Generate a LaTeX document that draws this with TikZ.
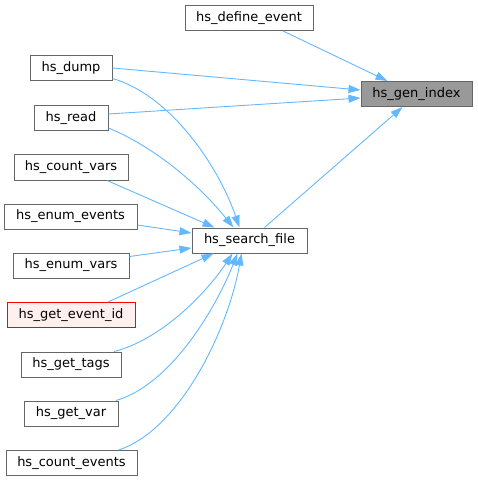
\documentclass[tikz,border=0pt]{standalone}
\usepackage{fontspec}
\setmainfont{DejaVu Sans}
\usetikzlibrary{arrows.meta}
\definecolor{edgec}{HTML}{63B8FF}
\definecolor{boxc}{HTML}{666666}
\definecolor{redc}{HTML}{FF0000}
\definecolor{redfill}{HTML}{FFF0F0}
\definecolor{grayfill}{HTML}{999999}
\begin{document}
\begin{tikzpicture}[x=1pt,y=-1pt,
  fn/.style={draw=boxc,line width=1pt,fill=white,inner sep=0pt,minimum height=25pt,font=\fontsize{13}{15}\selectfont},
  cur/.style={fn,fill=grayfill},
  redbox/.style={fn,draw=redc,fill=redfill},
  call/.style={draw=edgec,line width=0.9pt,-{Triangle[length=12pt,width=8pt]}}]
\useasboundingbox (0,0) rectangle (477,481);
\node[fn,minimum width=128pt] (de) at (249,18) {hs\_define\_event};
\node[cur,minimum width=111pt] (gi) at (416.5,94) {hs\_gen\_index};
\node[fn,minimum width=115pt] (sf) at (249.5,240.5) {hs\_search\_file};
\node[fn,minimum width=82pt] (dump) at (71,68.5) {hs\_dump};
\node[fn,minimum width=74pt] (read) at (71,118) {hs\_read};
\node[fn,minimum width=114pt] (cv) at (71,167.5) {hs\_count\_vars};
\node[fn,minimum width=133pt] (ee) at (70.5,216.5) {hs\_enum\_events};
\node[fn,minimum width=116pt] (ev) at (71,265.5) {hs\_enum\_vars};
\node[redbox,minimum width=128pt] (gei) at (71,315) {hs\_get\_event\_id};
\node[fn,minimum width=100pt] (gt) at (71,364.5) {hs\_get\_tags};
\node[fn,minimum width=94pt] (gv) at (71,413.5) {hs\_get\_var};
\node[fn,minimum width=131pt] (ce) at (71.5,463) {hs\_count\_events};
% edges to hs_gen_index
\draw[call] ([xshift=34pt]de.south) -- ([xshift=27pt]gi.north west);
\draw[call] ([yshift=0.5pt]dump.east) -- ([yshift=4pt]gi.west);
\draw[call] ([yshift=4pt]read.east) -- ([yshift=-4pt]gi.west);
\draw[call] ([xshift=15pt]sf.north) -- ([xshift=-14pt]gi.south);
% edges to hs_search_file
\draw[call] ([yshift=-10pt]dump.east) .. controls (170,95) and (218,165) .. ([xshift=-10pt]sf.north);
\draw[call] ([yshift=-10pt]read.east) .. controls (150,145) and (195,180) .. ([xshift=-16pt]sf.north);
\draw[call] ([xshift=36pt]cv.south) -- ([xshift=-35pt]sf.north);
\draw[call] ([yshift=-8.5pt]ee.east) -- ([yshift=7.5pt]sf.west);
\draw[call] ([yshift=-4pt]ev.north east) -- ([yshift=-7.5pt]sf.west);
\draw[call] ([xshift=37pt]gei.north) -- ([xshift=-36pt]sf.south);
\draw[call] ([xshift=43pt]gt.north) .. controls (160,340) and (205,295) .. ([xshift=-17pt]sf.south);
\draw[call] ([xshift=45pt]gv.north) .. controls (170,385) and (215,310) .. ([xshift=-12pt]sf.south);
\draw[call] ([xshift=47pt]ce.north) .. controls (180,430) and (228,330) .. ([xshift=-8pt]sf.south);
\end{tikzpicture}
\end{document}
